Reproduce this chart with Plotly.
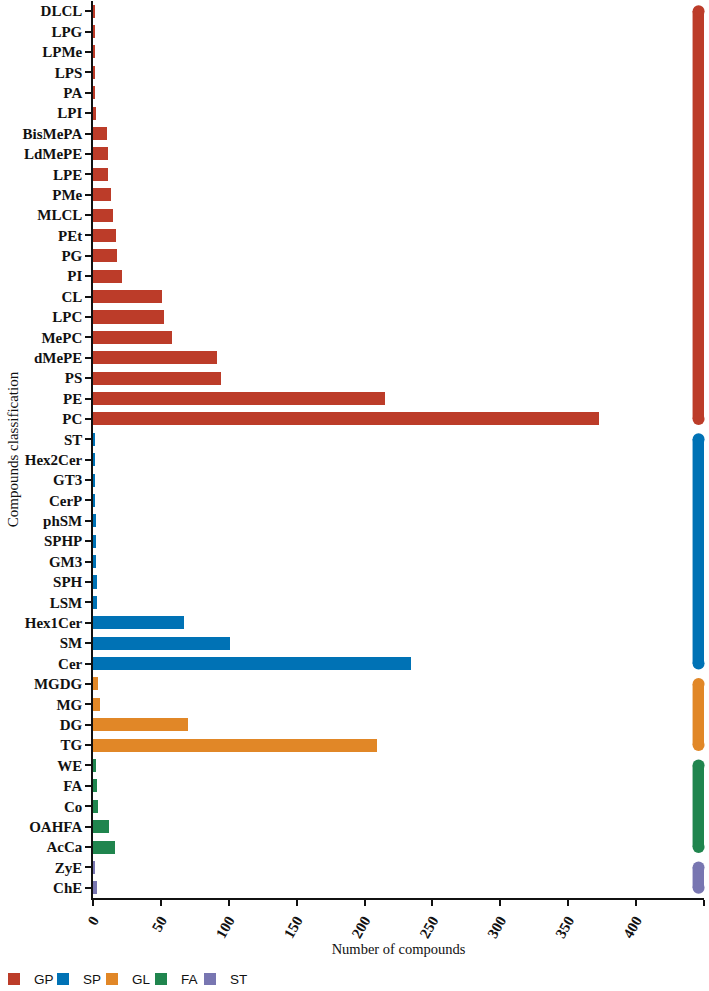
import plotly.graph_objects as go

# ---- data ----
groups = ["GP", "SP", "GL", "FA", "ST"]
colors = ["#BC3C29", "#0072B5", "#E18727", "#20854E", "#7876B1"]

cats_GP = ["DLCL", "LPG", "LPMe", "LPS", "PA", "LPI", "BisMePA", "LdMePE", "LPE", "PMe",
           "MLCL", "PEt", "PG", "PI", "CL", "LPC", "MePC", "dMePE", "PS", "PE", "PC"]
vals_GP = [1, 1, 1, 1, 1, 2, 10, 11, 11, 13, 15, 17, 18, 21, 51, 52, 58, 91, 94, 215, 373]

cats_SP = ["ST", "Hex2Cer", "GT3", "CerP", "phSM", "SPHP", "GM3", "SPH", "LSM",
           "Hex1Cer", "SM", "Cer"]
vals_SP = [1, 1, 1, 1, 2, 2, 2, 3, 3, 67, 101, 234]

cats_GL = ["MGDG", "MG", "DG", "TG"]
vals_GL = [4, 5, 70, 209]

cats_FA = ["WE", "FA", "Co", "OAHFA", "AcCa"]
vals_FA = [2, 3, 4, 12, 16]

cats_ST = ["ZyE", "ChE"]
vals_ST = [1, 3]

x_ticks = [0, 50, 100, 150, 200, 250, 300, 350, 400, 450]

all_cats = [cats_GP, cats_SP, cats_GL, cats_FA, cats_ST]
all_vals = [vals_GP, vals_SP, vals_GL, vals_FA, vals_ST]

# ---- style ----
GROUP_BAR_X = 446
SERIF = "Liberation Serif, Times New Roman, serif"
SANS = "Liberation Sans, Arial, sans-serif"
W, H = 709, 991
ML, MR, MT, MB = 93, 5, 1, 93
LEGEND_X0_PX = -6     # left of first legend box, in page pixels
LEGEND_STEP_PX = 49   # distance between legend entries
LEGEND_Y = -0.0905

legend_ids = ["legend", "legend2", "legend3", "legend4", "legend5"]

fig = go.Figure()
for i, (g, c, cats, vals) in enumerate(zip(groups, colors, all_cats, all_vals)):
    fig.add_trace(go.Bar(
        y=cats, x=vals, orientation="h", name=g,
        marker=dict(color=c, line=dict(width=0)),
        showlegend=True, legend=legend_ids[i],
    ))

# group indicator bars on the right (rounded ends)
for g, c, cats in zip(groups, colors, all_cats):
    fig.add_trace(go.Scatter(
        x=[GROUP_BAR_X] * len(cats), y=cats, mode="lines",
        line=dict(color=c, width=12), showlegend=False, hoverinfo="skip",
        cliponaxis=False,
    ))
    fig.add_trace(go.Scatter(
        x=[GROUP_BAR_X, GROUP_BAR_X], y=[cats[0], cats[-1]], mode="markers",
        marker=dict(color=c, size=12, line=dict(width=0)),
        showlegend=False, hoverinfo="skip", cliponaxis=False,
    ))

order = [c for cats in all_cats for c in cats]
plot_w = W - ML - MR

legend_common = dict(
    orientation="h", xanchor="left", yanchor="middle", y=LEGEND_Y,
    font=dict(family=SANS, size=13.5, color="#111"),
    itemwidth=30, bgcolor="rgba(0,0,0,0)",
)
layout_legends = {}
for i, lid in enumerate(legend_ids):
    px = LEGEND_X0_PX + i * LEGEND_STEP_PX
    layout_legends[lid] = dict(legend_common, x=(px - ML) / plot_w)

fig.update_layout(
    width=W, height=H,
    margin=dict(l=ML, r=MR, t=MT, b=MB, autoexpand=False),
    paper_bgcolor="white", plot_bgcolor="white",
    barmode="stack", bargap=0.36,
    font=dict(family=SERIF, color="#111"),
    **layout_legends,
)

fig.update_yaxes(
    type="category", categoryorder="array", categoryarray=order,
    range=[len(order) - 0.5, -0.5],
    showline=True, linecolor="#111", linewidth=1.5,
    ticks="outside", ticklen=6, tickwidth=1.5, tickcolor="#111",
    tickfont=dict(family=SERIF, size=15, color="#111", weight="bold"),
    showgrid=False, zeroline=False, automargin=False,
    title=dict(text="Compounds classification", font=dict(family=SERIF, size=15, color="#111"),
               standoff=0),
)
fig.update_xaxes(
    range=[0, 450], tickvals=x_ticks, ticktext=[str(v) for v in x_ticks],
    showline=True, linecolor="#111", linewidth=1.5,
    ticks="outside", ticklen=6, tickwidth=1.5, tickcolor="#111",
    tickangle=-60,
    tickfont=dict(family=SERIF, size=15, color="#111", weight="bold"),
    showgrid=False, zeroline=False, automargin=False,
    title=dict(text="Number of compounds", font=dict(family=SERIF, size=14.5, color="#111"),
               standoff=3),
)

fig.write_html("out.html")
